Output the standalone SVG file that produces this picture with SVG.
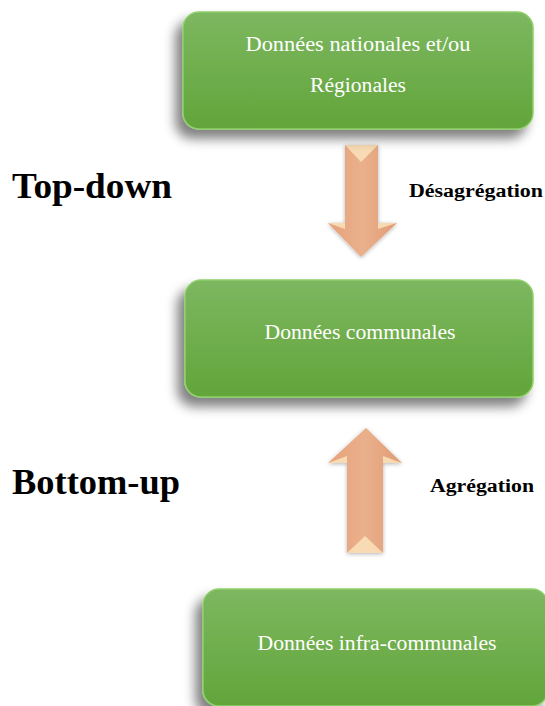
<svg xmlns="http://www.w3.org/2000/svg" width="545" height="706" viewBox="0 0 545 706">
<defs>
<linearGradient id="g" x1="0" y1="0" x2="0" y2="1">
<stop offset="0" stop-color="#7db760"/>
<stop offset="1" stop-color="#62a53a"/>
</linearGradient>
<linearGradient id="a" x1="0" y1="0" x2="1" y2="0">
<stop offset="0" stop-color="#e6a27a"/>
<stop offset="0.5" stop-color="#eab08c"/>
<stop offset="1" stop-color="#e09c74"/>
</linearGradient>
<filter id="sh" x="-20%" y="-20%" width="140%" height="150%">
<feGaussianBlur in="SourceAlpha" stdDeviation="6"/>
<feOffset dx="-7" dy="9" result="b"/>
<feComponentTransfer><feFuncA type="linear" slope="0.5"/></feComponentTransfer>
<feMerge><feMergeNode/><feMergeNode in="SourceGraphic"/></feMerge>
</filter>
<filter id="ash" x="-30%" y="-20%" width="160%" height="140%">
<feGaussianBlur in="SourceAlpha" stdDeviation="2"/>
<feOffset dx="0" dy="1"/>
<feComponentTransfer><feFuncA type="linear" slope="0.3"/></feComponentTransfer>
<feMerge><feMergeNode/><feMergeNode in="SourceGraphic"/></feMerge>
</filter>
</defs>
<style>
.box{fill:url(#g);stroke:#8fd06a;stroke-width:1.5;filter:url(#sh)}
.bt{font-family:"Liberation Serif","Times New Roman",serif;font-size:20px;fill:#ffffff;text-anchor:middle}
.big{font-family:"Liberation Serif","Times New Roman",serif;font-size:36px;font-weight:bold;fill:#000}
.lbl{font-family:"Liberation Serif","Times New Roman",serif;font-size:18px;font-weight:bold;fill:#000}
.arr{fill:url(#a);filter:url(#ash)}
.hl{fill:#fbe6bf}
</style>
<g id="connectors">
<g id="down-arrow">
<path class="arr" d="M345,145 L378,145 L378,223 L397,223 L361,257 L328,223 L345,223 Z"/>
<path class="hl" d="M345,145 L378,145 L361,162 Z" opacity="0.8"/>
<path class="hl" d="M328,223 L345,223 L345,229 Z" opacity="0.8"/>
<path class="hl" d="M378,223 L397,223 L378,229 Z" opacity="0.8"/>
</g>
<g id="up-arrow">
<path class="arr" d="M347,553 L383,553 L383,463 L402,463 L366,428 L328,463 L347,463 Z"/>
<path class="hl" d="M347,553 L383,553 L365,536 Z" opacity="0.8"/>
<path class="hl" d="M328,463 L347,463 L347,456 Z" opacity="0.8"/>
<path class="hl" d="M383,463 L402,463 L383,456 Z" opacity="0.8"/>
</g>
</g>
<g id="node-nationales">
<rect class="box" x="183" y="12" width="350" height="117" rx="16"/>
<text class="bt" x="358" y="51" textLength="225" lengthAdjust="spacingAndGlyphs">Données nationales et/ou</text>
<text class="bt" x="358" y="92" textLength="96" lengthAdjust="spacingAndGlyphs">Régionales</text>
</g>
<g id="node-communales">
<rect class="box" x="185" y="280" width="348" height="117" rx="16"/>
<text class="bt" x="360" y="339" textLength="191" lengthAdjust="spacingAndGlyphs">Données communales</text>
</g>
<g id="node-infra">
<rect class="box" x="203" y="589" width="345" height="117" rx="16"/>
<text class="bt" x="377" y="650" textLength="239" lengthAdjust="spacingAndGlyphs">Données infra-communales</text>
</g>
<g id="labels">
<text class="big" x="12" y="198" textLength="160" lengthAdjust="spacingAndGlyphs">Top-down</text>
<text class="big" x="12" y="494" textLength="168" lengthAdjust="spacingAndGlyphs">Bottom-up</text>
<text class="lbl" x="409" y="197" textLength="134" lengthAdjust="spacingAndGlyphs">Désagrégation</text>
<text class="lbl" x="430" y="492" textLength="104" lengthAdjust="spacingAndGlyphs">Agrégation</text>
</g>
</svg>
